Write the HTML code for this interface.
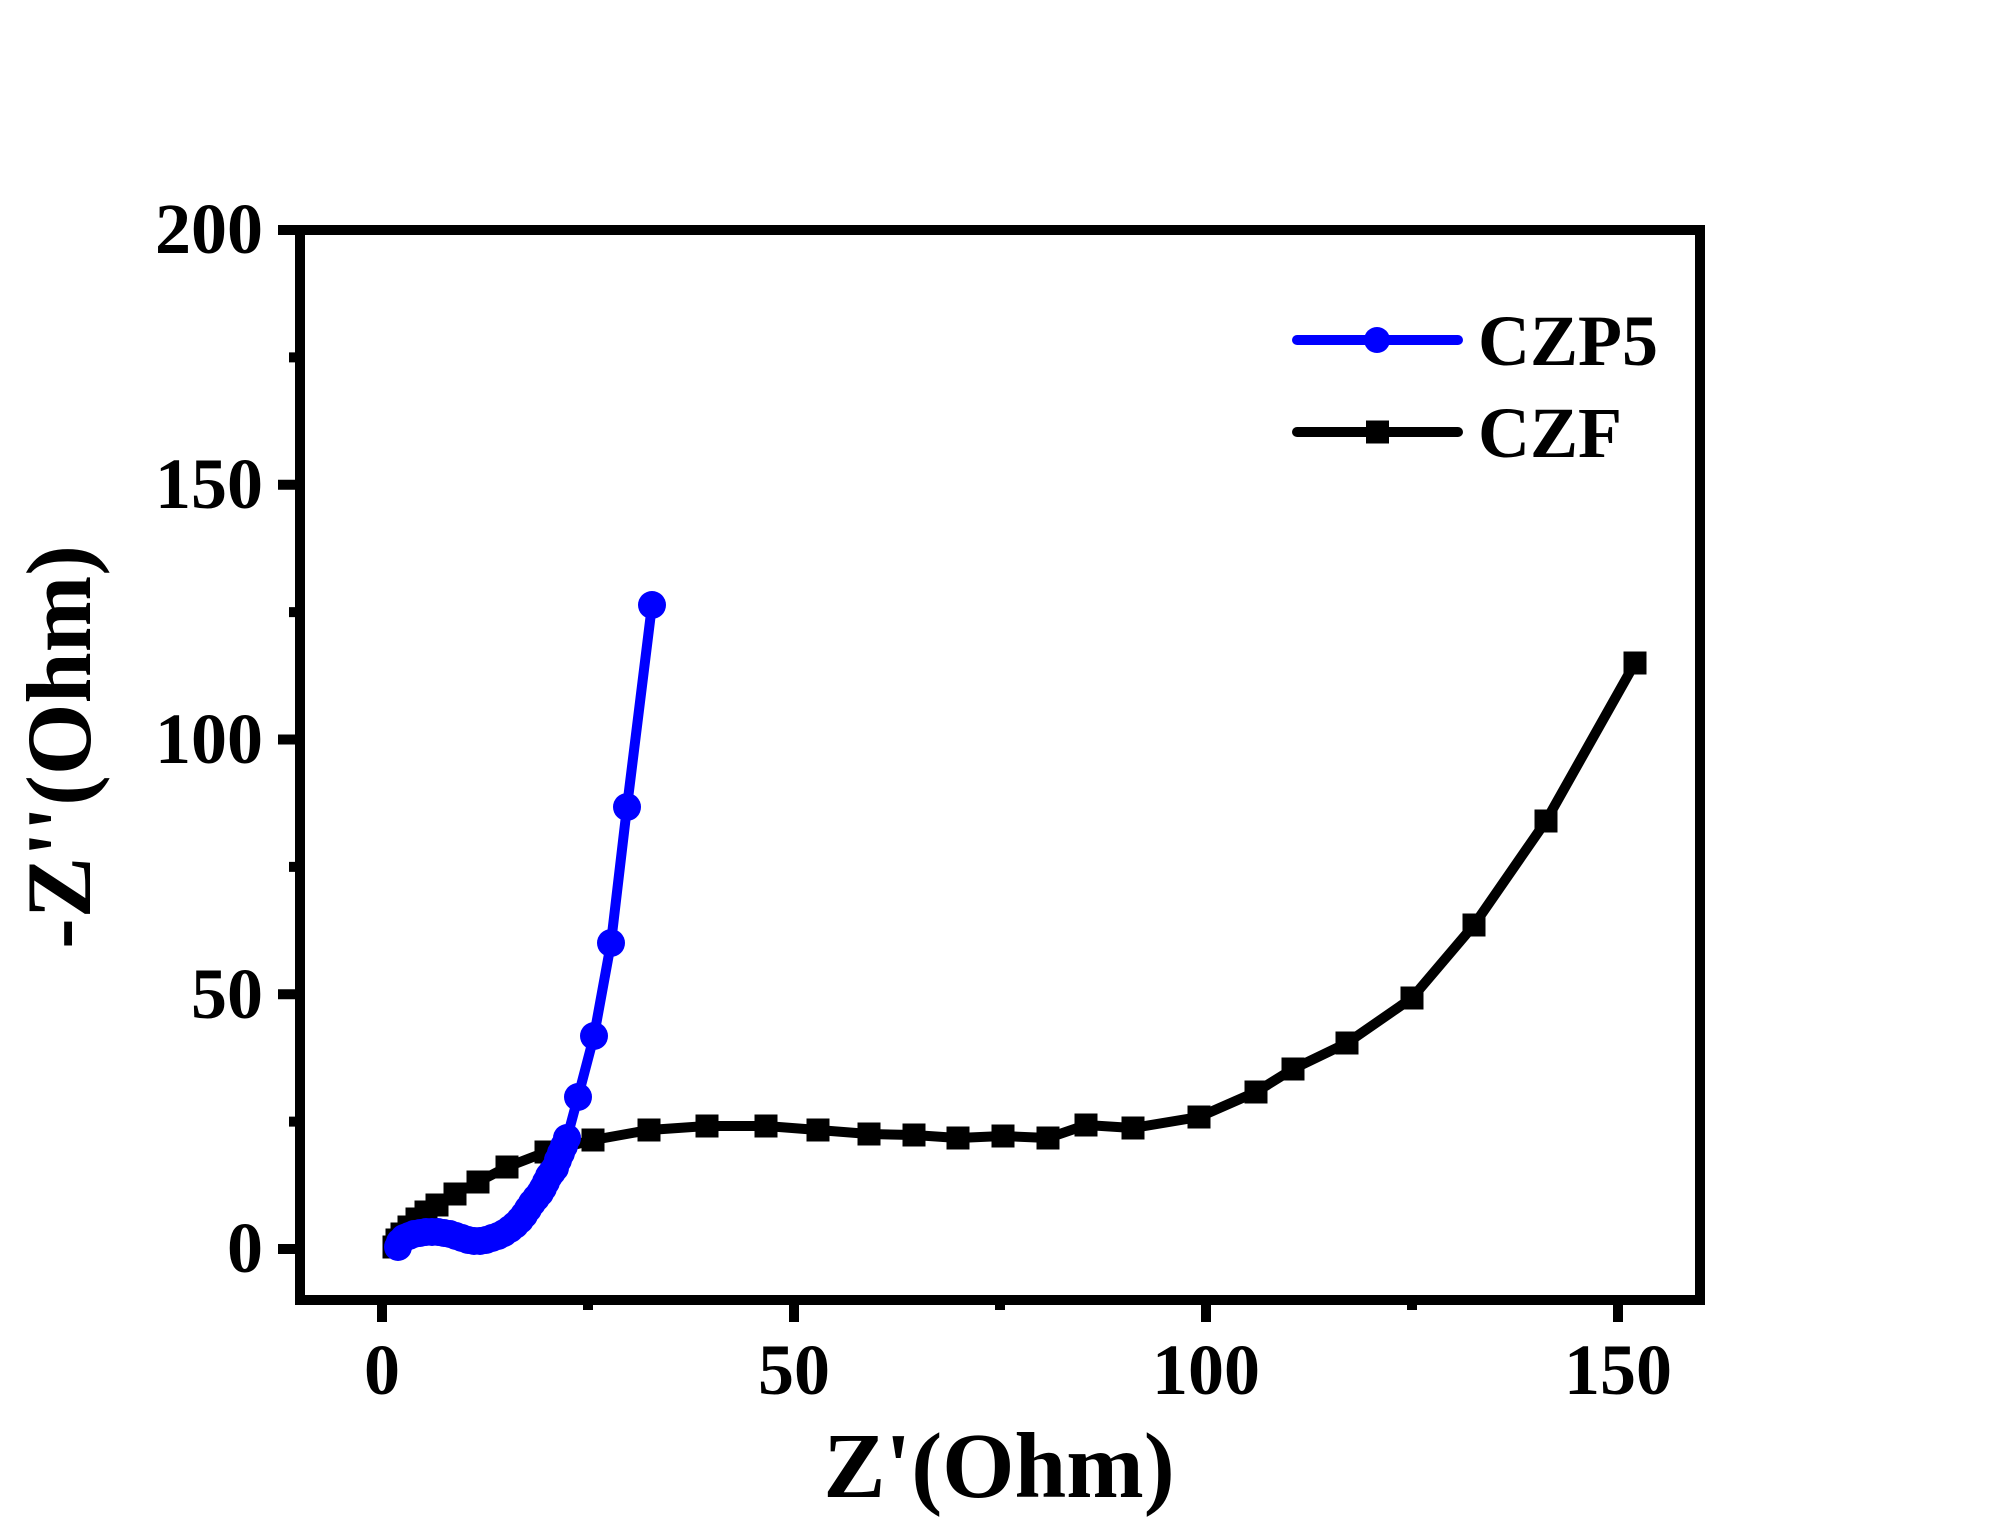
<!DOCTYPE html>
<html>
<head>
<meta charset="utf-8">
<style>
  html,body{margin:0;padding:0;background:#fff;}
  svg{display:block;}
  text{font-family:"Liberation Serif","Times New Roman",serif;font-weight:bold;fill:#000;}
</style>
</head>
<body>
<svg width="1999" height="1530" viewBox="0 0 1999 1530" xmlns="http://www.w3.org/2000/svg">
  <defs>
    <marker id="sq" markerUnits="userSpaceOnUse" markerWidth="23" markerHeight="23" refX="11.5" refY="11.5" viewBox="0 0 23 23" overflow="visible">
      <rect x="0" y="0" width="23" height="23" fill="#000"/>
    </marker>
    <marker id="ci" markerUnits="userSpaceOnUse" markerWidth="28" markerHeight="28" refX="14" refY="14" viewBox="0 0 28 28" overflow="visible">
      <circle cx="14" cy="14" r="14" fill="#0000ff"/>
    </marker>
  </defs>

  <rect x="0" y="0" width="1999" height="1530" fill="#fff"/>

  <rect x="300" y="230" width="1400" height="1070" fill="none" stroke="#000" stroke-width="10"/>

  <path stroke="#000" stroke-width="10" fill="none"
    d="M278 230H300 M278 484.75H300 M278 739.5H300 M278 994.25H300 M278 1249H300
       M289 357.4H300 M289 612.1H300 M289 866.9H300 M289 1121.6H300
       M382 1300V1322 M794 1300V1322 M1206 1300V1322 M1618 1300V1322
       M588 1300V1310 M1000 1300V1310 M1412 1300V1310"/>

  <g font-size="72" text-anchor="end">
    <text x="263" y="253">200</text>
    <text x="263" y="508">150</text>
    <text x="263" y="763">100</text>
    <text x="263" y="1018">50</text>
    <text x="263" y="1272">0</text>
  </g>

  <g font-size="72" text-anchor="middle">
    <text x="382" y="1394">0</text>
    <text x="794" y="1394">50</text>
    <text x="1206" y="1394">100</text>
    <text x="1618" y="1394">150</text>
  </g>

  <text x="999" y="1497" font-size="93" text-anchor="middle">Z'(Ohm)</text>
  <text transform="translate(90,747) rotate(-90)" font-size="92" text-anchor="middle">-Z''(Ohm)</text>

  <polyline fill="none" stroke="#000" stroke-width="10" stroke-linejoin="round"
    marker-start="url(#sq)" marker-mid="url(#sq)" marker-end="url(#sq)"
    points="394,1247 397,1240 402,1234 409,1227 417,1219 426,1212 437,1205 455,1194 478,1182 507,1167 546,1152 593,1140 649,1130 707,1126 766,1126 818,1130 869,1134 914,1135 958,1138 1003,1136 1048,1138 1086,1125 1133,1128 1199,1117 1256,1092 1293,1069 1347,1043 1412,998 1474,925 1546,821 1635,663"/>

  <polyline fill="none" stroke="#0000ff" stroke-width="10" stroke-linejoin="round"
    marker-start="url(#ci)" marker-mid="url(#ci)" marker-end="url(#ci)"
    points="398,1247 400,1242 404,1238 409,1236 414,1234 420,1233 426,1232 432,1232 438,1232 444,1233 450,1234 456,1236 462,1238 468,1240 474,1241 480,1241 486,1240 492,1238 498,1236 504,1233 510,1229 515,1225 520,1220 524,1215 528,1209 532,1203 536,1198 540,1193 543,1188 546,1182 549,1176 552,1172 555,1168 558,1160 561,1153 564,1146 567,1138 578,1097 594,1036 611,943 627,807 652,605"/>

  <line x1="1297" y1="340" x2="1458" y2="340" stroke="#0000ff" stroke-width="10" stroke-linecap="round"/>
  <circle cx="1377" cy="340" r="13" fill="#0000ff"/>
  <text x="1478" y="365" font-size="72">CZP5</text>

  <line x1="1297" y1="432" x2="1458" y2="432" stroke="#000" stroke-width="10" stroke-linecap="round"/>
  <rect x="1366" y="420.5" width="23" height="23" fill="#000"/>
  <text x="1478" y="457" font-size="72">CZF</text>
</svg>
</body>
</html>
